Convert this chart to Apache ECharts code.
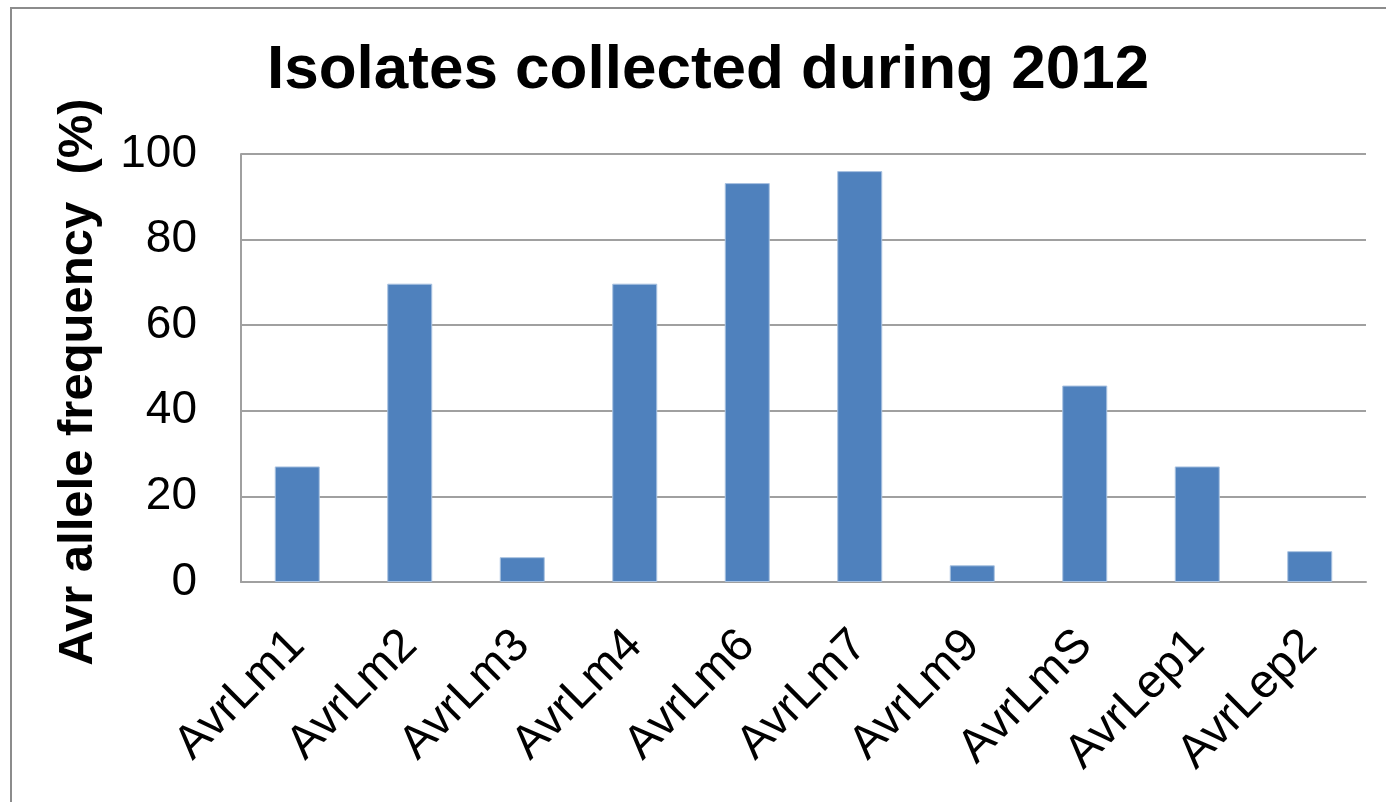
<!DOCTYPE html>
<html>
<head>
<meta charset="utf-8">
<script src="https://cdn.jsdelivr.net/npm/echarts@6/dist/echarts.min.js"></script>
<style>
  html, body { margin: 0; padding: 0; background: #ffffff; }
  #chart { width: 1386px; height: 802px; }
</style>
</head>
<body>
<div id="chart"></div>
<script>
// Avr allele frequencies (%) for isolates collected in 2012
const categories = ['AvrLm1', 'AvrLm2', 'AvrLm3', 'AvrLm4', 'AvrLm6', 'AvrLm7', 'AvrLm9', 'AvrLmS', 'AvrLep1', 'AvrLep2'];
const frequencies = [27, 69.7, 5.8, 69.7, 93.2, 96, 3.9, 45.9, 27, 7.2];
const yTicks = [0, 20, 40, 60, 80, 100];

const FONT = '"Liberation Sans", Arial, sans-serif';
const GRID_GREY = '#a0a0a0';

const chart = echarts.init(document.getElementById('chart'), null, { renderer: 'canvas' });

chart.setOption({
  backgroundColor: '#ffffff',
  animation: false,
  graphic: [
    {
      // outer chart frame
      type: 'rect',
      shape: { x: 11, y: 8, width: 1420, height: 840 },
      style: { fill: 'none', stroke: '#8c8c8c', lineWidth: 2 },
      silent: true
    }
  ],
  title: {
    text: 'Isolates collected during 2012',
    left: 262,
    top: 35,
    textStyle: { fontFamily: FONT, fontSize: 62, fontWeight: 'bold', color: '#000000' }
  },
  grid: { left: 241, right: 20, top: 154, bottom: 220, containLabel: false },
  xAxis: {
    type: 'category',
    data: categories,
    axisLine: { show: true, lineStyle: { color: GRID_GREY, width: 2 } },
    axisTick: { show: false },
    axisLabel: {
      rotate: 45,
      interval: 0,
      margin: 56,
      fontFamily: FONT,
      fontSize: 47,
      color: '#000000'
    }
  },
  yAxis: {
    type: 'value',
    min: yTicks[0],
    max: yTicks[yTicks.length - 1],
    interval: yTicks[1] - yTicks[0],
    name: 'Avr allele frequency  (%)',
    nameLocation: 'middle',
    nameGap: 138,
    nameRotate: 90,
    nameTextStyle: {
      fontFamily: FONT, fontSize: 49, fontWeight: 'bold', color: '#000000',
      padding: [0, 28, 0, 0]
    },
    axisLine: { show: true, lineStyle: { color: GRID_GREY, width: 2 } },
    axisTick: { show: false },
    axisLabel: {
      margin: 44,
      fontFamily: FONT,
      fontSize: 46,
      color: '#000000'
    },
    splitLine: { show: true, lineStyle: { color: GRID_GREY, width: 2 } }
  },
  series: [
    {
      type: 'bar',
      data: frequencies,
      barWidth: '40%',
      itemStyle: { color: '#4f81bd', borderColor: '#a9c2e0', borderWidth: 1 }
    }
  ]
});
</script>
</body>
</html>
